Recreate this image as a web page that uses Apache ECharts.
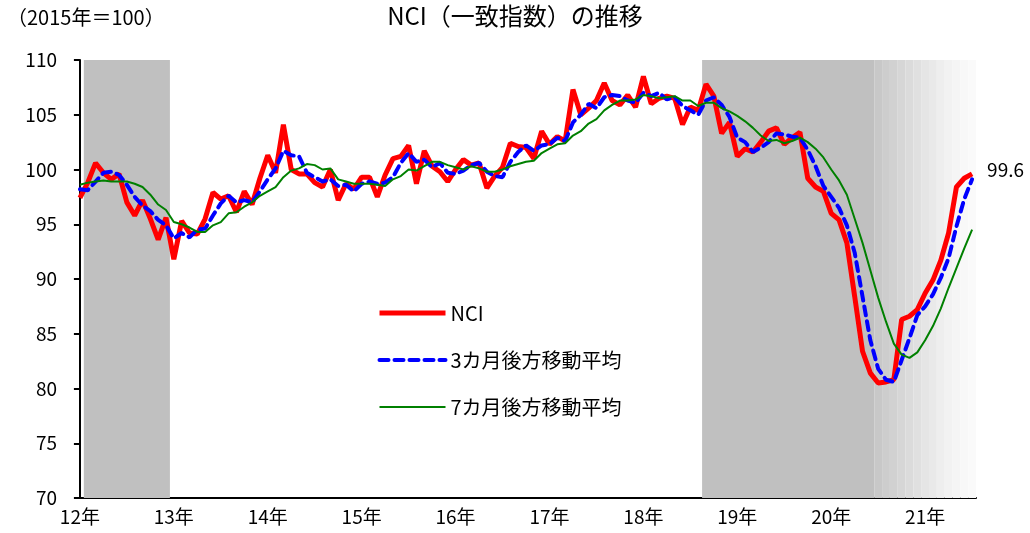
<!DOCTYPE html>
<html>
<head>
<meta charset="utf-8">
<script src="https://cdn.jsdelivr.net/npm/echarts@6/dist/echarts.min.js"></script>
<style>
  html, body { margin: 0; padding: 0; background: #fff; }
  #chart { width: 1030px; height: 533px; }
</style>
</head>
<body>
<div id="chart"></div>
<script>
// monthly, Jan 2012 .. Jul 2021
const nci = [
  97.4, 98.8, 100.6, 99.7, 99.1, 99.6, 97.0, 95.8, 97.2, 95.5, 93.6, 95.6,
  91.8, 95.3, 94.2, 94.1, 95.5, 97.9, 97.3, 97.6, 96.1, 98.0, 96.8, 99.2,
  101.3, 99.7, 104.1, 100.0, 99.6, 99.6, 98.8, 98.4, 100.0, 97.2, 98.7, 98.2,
  99.3, 99.3, 97.5, 99.5, 101.0, 101.2, 102.2, 98.7, 101.7, 100.3, 99.8, 98.9,
  100.0, 100.9, 100.4, 100.6, 98.3, 99.4, 100.2, 102.4, 102.1, 102.0, 101.0, 103.5,
  102.3, 103.0, 102.6, 107.3, 105.0, 105.6, 106.3, 107.9, 106.3, 105.9, 106.8, 105.7,
  108.5, 106.0, 106.5, 106.7, 106.5, 104.1, 105.7, 105.4, 107.8, 106.7, 103.3, 104.3,
  101.2, 101.9, 101.6, 102.5, 103.5, 103.8, 102.3, 102.9, 103.4, 99.2, 98.4, 98.0,
  96.0, 95.4, 93.3, 88.4, 83.4, 81.4, 80.5, 80.6, 80.8, 86.3, 86.6, 87.2,
  88.7, 89.9, 91.7, 94.2, 98.4, 99.2, 99.6
]
const ma3 = [
  98.2, 98.1, 98.9, 99.7, 99.8, 99.5, 98.6, 97.5, 96.7, 96.2, 95.4, 94.9,
  93.7, 94.2, 93.8, 94.5, 94.6, 95.8, 96.9, 97.6, 97.0, 97.2, 97.0, 98.0,
  99.1, 100.1, 101.7, 101.3, 101.2, 99.7, 99.3, 98.9, 99.1, 98.5, 98.6, 98.0,
  98.7, 98.9, 98.7, 98.8, 99.3, 100.6, 101.5, 100.7, 100.9, 100.2, 100.6, 99.7,
  99.6, 99.9, 100.4, 100.6, 99.8, 99.4, 99.3, 100.7, 101.6, 102.2, 101.7, 102.2,
  102.3, 102.9, 102.6, 104.3, 105.0, 106.0, 105.6, 106.6, 106.8, 106.7, 106.3, 106.1,
  107.0, 106.7, 107.0, 106.4, 106.6, 105.8, 105.4, 105.0, 106.3, 106.6, 105.9, 104.8,
  102.9, 102.5, 101.6, 102.0, 102.5, 103.3, 103.2, 103.0, 102.9, 101.8, 100.3, 98.5,
  97.5, 96.5, 94.9, 92.4, 88.4, 84.4, 81.8, 80.8, 80.6, 82.6, 84.6, 86.7,
  87.5, 88.6, 90.1, 91.9, 94.8, 97.3, 99.1
]
const ma7 = [
  98.6, 98.8, 98.9, 99.0, 98.9, 98.9, 98.9, 98.7, 98.4, 97.7, 96.8, 96.3,
  95.2, 95.0, 94.7, 94.3, 94.3, 94.9, 95.2, 96.0, 96.1, 96.6, 97.0, 97.6,
  98.0, 98.4, 99.3, 99.9, 100.1, 100.5, 100.4, 100.0, 100.1, 99.1, 98.9, 98.7,
  98.7, 98.7, 98.6, 98.5, 99.1, 99.4, 100.0, 99.9, 100.3, 100.7, 100.7, 100.4,
  100.2, 100.0, 100.3, 100.1, 99.8, 99.8, 100.0, 100.3, 100.5, 100.7, 100.8, 101.5,
  101.9, 102.3, 102.4, 103.1, 103.5, 104.2, 104.6, 105.4, 105.9, 106.3, 106.3, 106.4,
  106.8, 106.7, 106.5, 106.6, 106.7, 106.3, 106.3, 105.8, 106.1, 106.1, 105.6, 105.3,
  104.9, 104.4, 103.8, 103.1, 102.6, 102.7, 102.4, 102.6, 102.9, 102.5, 101.9, 101.1,
  100.0, 99.0, 97.7, 95.5, 93.3, 90.8, 88.3, 86.1, 84.1, 83.1, 82.8, 83.3,
  84.4, 85.7, 87.3, 89.2, 91.0, 92.8, 94.5
]
const yearLabels = ['12年', '13年', '14年', '15年', '16年', '17年', '18年', '19年', '20年', '21年']
// shaded periods in month index: [from, to, gray level]
const bandFrom = [0.5, 79.5, 101.5, 102.5, 103.5, 104.5, 105.5, 106.5, 107.5, 108.5, 109.5, 110.5, 111.5, 112.5, 113.5]
const bandTo = [11.5, 101.5, 102.5, 103.5, 104.5, 105.5, 106.5, 107.5, 108.5, 109.5, 110.5, 111.5, 112.5, 113.5, 114.5]
const bandGray = [192, 192, 200, 205, 209, 214, 219, 224, 229, 233, 238, 242, 245, 248, 250]

const FONT = '"Noto Sans CJK JP", "Noto Sans", sans-serif'
const pairs = (arr) => arr.map((v, i) => [i, v])
const gray = (g) => `rgb(${g},${g},${g})`

const chart = echarts.init(document.getElementById('chart'))
chart.setOption({
  animation: false,
  textStyle: { fontFamily: FONT, color: '#000' },
  title: [
    { text: 'NCI（一致指数）の推移', left: 'center', top: 4, padding: 0,
      textStyle: { fontFamily: FONT, fontSize: 24, fontWeight: 'normal', color: '#000' } },
    { text: '（2015年＝100）', left: 7, top: 7, padding: 0,
      textStyle: { fontFamily: FONT, fontSize: 20, fontWeight: 'normal', color: '#000' } },
  ],
  legend: {
    data: ['NCI', '3カ月後方移動平均', '7カ月後方移動平均'],
    orient: 'vertical',
    left: 377,
    top: 303,
    padding: 0,
    itemWidth: 66,
    itemHeight: 20,
    itemGap: 27,
    itemStyle: { opacity: 0 },
    lineStyle: { width: 'inherit' },
    textStyle: { fontFamily: FONT, fontSize: 20, color: '#000' },
  },
  grid: { left: 76, right: 54, top: 60, bottom: 35, outerBoundsMode: 'none' },
  xAxis: {
    type: 'value',
    min: -0.5,
    max: 114.5,
    axisLine: { show: true, lineStyle: { color: '#000', width: 2 } },
    axisTick: { show: false },
    splitLine: { show: false },
    axisLabel: {
      customValues: yearLabels.map((_, k) => k * 12),
      formatter: (v) => yearLabels[Math.round(v / 12)],
      fontSize: 19,
      color: '#000',
      margin: 9,
    },
  },
  yAxis: {
    type: 'value',
    min: 70,
    max: 110,
    interval: 5,
    axisLine: { show: true, lineStyle: { color: '#000', width: 2 } },
    axisTick: { show: true, length: 6, lineStyle: { color: '#000', width: 2 } },
    splitLine: { show: false },
    axisLabel: { fontSize: 19, color: '#000', margin: 19 },
  },
  series: [
    {
      name: 'bands',
      type: 'line',
      data: [],
      silent: true,
      z: 1,
      markArea: {
        silent: true,
        data: bandFrom.map((s, k) => [
          { xAxis: s, itemStyle: { color: gray(bandGray[k]) } },
          { xAxis: bandTo[k] },
        ]),
      },
    },
    {
      name: 'NCI',
      type: 'line',
      data: pairs(nci),
      symbol: 'none',
      z: 3,
      lineStyle: { color: '#ff0000', width: 5 },
      itemStyle: { color: '#ff0000' },
      endLabel: {
        show: true,
        formatter: (p) => p.value[1].toFixed(1),
        fontSize: 19,
        color: '#000',
        distance: 15,
        offset: [0, -4],
      },
    },
    {
      name: '3カ月後方移動平均',
      type: 'line',
      data: pairs(ma3),
      symbol: 'none',
      z: 4,
      lineStyle: { color: '#0000ff', width: 4, type: [9, 6], cap: 'round' },
      itemStyle: { color: '#0000ff' },
    },
    {
      name: '7カ月後方移動平均',
      type: 'line',
      data: pairs(ma7),
      symbol: 'none',
      z: 5,
      lineStyle: { color: '#008000', width: 2 },
      itemStyle: { color: '#008000' },
    },
  ],
})
</script>
</body>
</html>
